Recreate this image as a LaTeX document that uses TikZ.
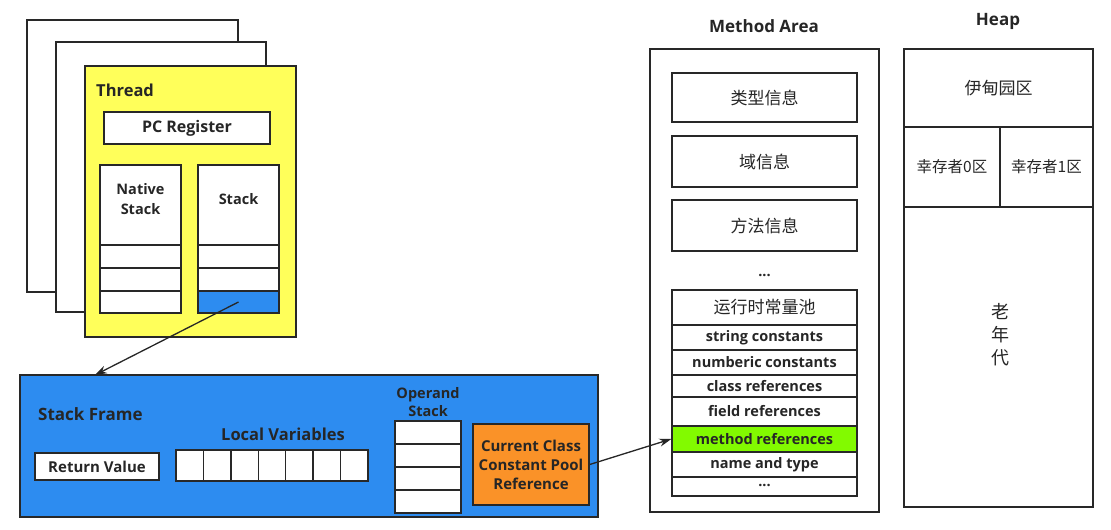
\documentclass[tikz,border=0pt]{standalone}
\usepackage{fontspec}
\setmainfont{Open Sans}
\newfontfamily\cjk{Noto Sans CJK SC}
\usetikzlibrary{arrows.meta}
\definecolor{thyellow}{RGB}{255,255,90}
\definecolor{frblue}{RGB}{45,140,240}
\definecolor{crorange}{RGB}{250,146,40}
\definecolor{mrgreen}{RGB}{130,250,0}
\definecolor{edge}{RGB}{40,40,40}
\begin{document}
\begin{tikzpicture}[x=1pt,y=-1pt,
  box/.style={draw=edge,line width=1.4pt,rectangle,inner sep=0pt,fill=white},
  lbl/.style={inner sep=0pt,font=\fontsize{14.5}{16}\selectfont\bfseries,text=black!85},
  head/.style={inner sep=0pt,font=\fontsize{17}{19}\selectfont\bfseries,text=black!85},
  cn/.style={inner sep=0pt,font=\fontsize{17}{19}\selectfont\cjk,text=black!85},
  conn/.style={draw=black!85,line width=1.3pt,-{Stealth[length=12pt,width=8pt]}}]
\useasboundingbox (0,0) rectangle (1111,530);
% thread pages
\node[box,minimum width=211pt,minimum height=272pt] (page1) at (132.5,156) {};
\node[box,minimum width=210pt,minimum height=270pt] (page2) at (161,177) {};
\node[box,fill=thyellow,minimum width=211pt,minimum height=271pt] (thread) at (190.5,201.5) {};
\node[head,anchor=west,font=\fontsize{16.5}{19}\selectfont\bfseries] (threadlbl) at (96,90) {Thread};
\node[box,minimum width=166pt,minimum height=32pt,lbl,font=\fontsize{16}{18}\selectfont\bfseries] (pc) at (187,128) {PC Register};
% native stack
\node[box,minimum width=81pt,minimum height=80pt] (ntop) at (140.5,205) {};
\node[lbl,align=center,font=\fontsize{14.5}{20}\selectfont\bfseries] (ntxt) at (140.5,199) {Native\\Stack};
\node[box,minimum width=81pt,minimum height=23pt] (n1) at (140.5,256.5) {};
\node[box,minimum width=81pt,minimum height=23pt] (n2) at (140.5,279.5) {};
\node[box,minimum width=81pt,minimum height=22pt] (n3) at (140.5,302) {};
% stack
\node[box,minimum width=81pt,minimum height=80pt] (stop) at (238.5,205) {};
\node[lbl] (stxt) at (238.5,199) {Stack};
\node[box,minimum width=81pt,minimum height=23pt] (s1) at (238.5,256.5) {};
\node[box,minimum width=81pt,minimum height=23pt] (s2) at (238.5,279.5) {};
\node[box,fill=frblue,minimum width=81pt,minimum height=22pt] (s3) at (238.5,302) {};
% stack frame
\node[box,fill=frblue,minimum width=578pt,minimum height=142pt] (frame) at (309,446) {};
\coordinate (frametop) at (95,375);
\draw[conn] (s3.center) -- (frametop);
\node[head,anchor=west] (framelbl) at (38,414) {Stack Frame};
\node[box,lbl,minimum width=124pt,minimum height=27pt,font=\fontsize{15}{17}\selectfont\bfseries] (ret) at (97,466.5) {Return Value};
\node[lbl,font=\fontsize{16.5}{18}\selectfont\bfseries] (locallbl) at (283,434) {Local Variables};
\foreach \i in {0,...,6}{
  \node[box,minimum width=27.43pt,minimum height=31pt] (lv\i) at ({176+13.71+27.43*\i},465.5) {};
}
\node[lbl,align=center,font=\fontsize{14.5}{18}\selectfont\bfseries] (oplbl) at (428,402) {Operand\\Stack};
\foreach \i in {0,...,3}{
  \node[box,minimum width=66pt,minimum height=23pt] (op\i) at (428,{421+11.5+23*\i}) {};
}
\node[box,fill=crorange,minimum width=116pt,minimum height=81pt,lbl,align=center,font=\fontsize{15}{19}\selectfont\bfseries] (ccp) at (531,464.5) {Current Class\\Constant Pool\\Reference};
% method area
\node[head] (malbl) at (764,26) {Method Area};
\node[box,minimum width=229pt,minimum height=463pt] (ma) at (764.5,280.5) {};
\node[box,cn,minimum width=185pt,minimum height=49pt] (m1) at (764.5,97.5) {类型信息};
\node[box,cn,minimum width=185pt,minimum height=51pt] (m2) at (764.5,161.5) {域信息};
\node[box,cn,minimum width=185pt,minimum height=51pt] (m3) at (764.5,225.5) {方法信息};
\node[lbl] (mdots) at (764.5,275) {...};
\node[box,cn,minimum width=185pt,minimum height=35pt] (r0) at (764.5,307.5) {运行时常量池};
\node[box,lbl,minimum width=185pt,minimum height=25pt] (r1) at (764.5,337.5) {string constants};
\node[box,lbl,minimum width=185pt,minimum height=25pt] (r2) at (764.5,362.5) {numberic constants};
\node[box,lbl,minimum width=185pt,minimum height=22pt] (r3) at (764.5,386) {class references};
\node[box,lbl,minimum width=185pt,minimum height=29pt] (r4) at (764.5,411.5) {field references};
\node[box,lbl,fill=mrgreen,minimum width=185pt,minimum height=26pt] (r5) at (764.5,439) {method references};
\node[box,lbl,minimum width=185pt,minimum height=25pt] (r6) at (764.5,464.5) {name and type};
\node[box,lbl,minimum width=185pt,minimum height=19pt] (r7) at (764.5,486.5) {\raisebox{2pt}{...}};
\draw[conn] (ccp.east) -- (r5.west);
% heap
\node[head] (heaplbl) at (998,21) {Heap};
\node[box,cn,minimum width=189pt,minimum height=78pt] (eden) at (998.5,88) {伊甸园区};
\node[box,cn,font=\fontsize{15.5}{18}\selectfont\cjk,minimum width=96pt,minimum height=80pt] (s0) at (952,167) {幸存者0区};
\node[box,cn,font=\fontsize{15.5}{18}\selectfont\cjk,minimum width=93pt,minimum height=80pt] (s1h) at (1046.5,167) {幸存者1区};
\node[box,minimum width=189pt,minimum height=300pt] (old) at (998.5,357) {};
\node[cn,align=center,font=\fontsize{18}{23}\selectfont\cjk] (oldtxt) at (1000,335) {老\\年\\代};
\end{tikzpicture}
\end{document}
